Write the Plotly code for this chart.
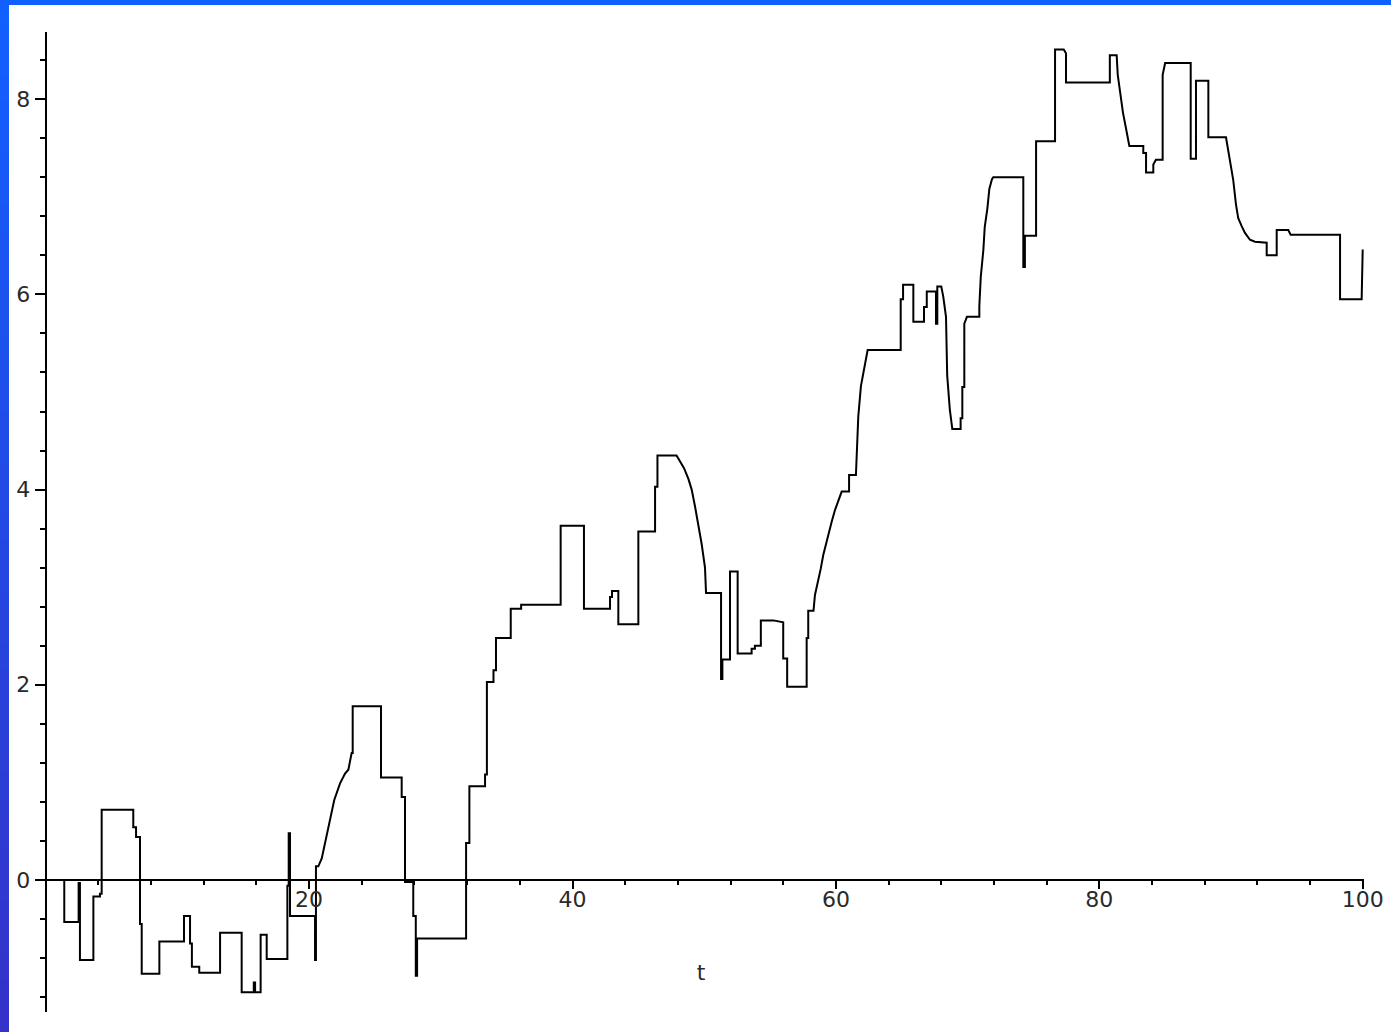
import plotly.graph_objects as go

# Sample path X(t) of the jump process, vertices of the polyline (t, X)
t_vals = [
    0, 1.41, 1.41, 2.5, 2.5, 2.6, 2.6, 3.62, 3.62, 4.12, 4.12, 4.25, 4.25,
    6.65, 6.65, 6.86, 6.86, 7.16, 7.16, 7.29, 7.29, 8.63, 8.63, 10.5, 10.5,
    10.96, 10.96, 11.1, 11.1, 11.66, 11.66, 13.24, 13.24, 14.88, 14.88,
    15.8, 15.8, 15.9, 15.9, 16.32, 16.32, 16.78, 16.78, 18.35, 18.35,
    18.45, 18.45, 18.55, 18.55, 20.45, 20.45, 20.52, 20.52, 20.7,
    20.96, 21.21, 21.46, 21.72, 21.91, 22.35, 22.73, 22.98, 23.1, 23.23,
    23.31, 23.31, 25.46, 25.46, 27.03, 27.03, 27.28, 27.28, 27.91, 27.91,
    28.1, 28.1, 28.2, 28.2, 31.92, 31.92, 32.17, 32.17, 33.36, 33.36,
    33.5, 33.5, 34.0, 34.0, 34.19, 34.19, 35.31, 35.31, 36.1, 36.1, 39.1,
    39.1, 40.87, 40.87, 42.85, 42.85, 43.0, 43.0, 43.48, 43.48, 45.0, 45.0,
    46.27, 46.27, 46.45, 46.45, 47.9, 48.16, 48.47, 48.8, 49.05, 49.3,
    49.55, 49.81, 50.06, 50.14, 51.28, 51.28, 51.38, 51.38, 51.96, 51.96,
    52.54, 52.54, 53.6, 53.6, 53.85, 53.85, 54.3, 54.3, 55.25, 56.0, 56.0,
    56.3, 56.3, 57.78, 57.78, 57.9, 57.9, 58.3, 58.41, 58.66, 58.85, 59.04,
    59.25, 59.42, 59.68, 59.93, 60.18, 60.44, 61.0, 61.0, 61.52, 61.58,
    61.7, 61.9, 62.08, 62.3, 62.41, 64.92, 64.92, 65.1, 65.1, 65.88, 65.88,
    66.69, 66.69, 66.9, 66.9, 67.6, 67.6, 67.7, 67.7, 68.0, 68.15, 68.36,
    68.45, 68.65, 68.84, 69.47, 69.47, 69.6, 69.6, 69.75, 69.75, 69.95,
    70.89, 70.89, 71.0, 71.2, 71.3, 71.5, 71.65, 71.85, 71.95, 74.23,
    74.23, 74.35, 74.35, 75.2, 75.2, 76.64, 76.64, 77.3, 77.47, 77.47,
    80.8, 80.8, 81.32, 81.4, 81.6, 81.8, 82.0, 82.28, 83.34, 83.34, 83.55,
    83.55, 84.1, 84.1, 84.3, 84.81, 84.81, 85.0, 86.94, 86.94, 87.34,
    87.34, 88.28, 88.28, 89.62, 89.8, 89.98, 90.17, 90.38, 90.55, 90.81,
    91.06, 91.44, 91.82, 92.71, 92.71, 93.47, 93.47, 94.35, 94.53, 98.28,
    98.28, 99.92, 99.95, 100.0,
]
x_vals = [
    0, 0, -0.43, -0.43, -0.03, -0.03, -0.82, -0.82, -0.17, -0.17, -0.14,
    -0.14, 0.72, 0.72, 0.54, 0.54, 0.44, 0.44, -0.45, -0.45, -0.96, -0.96,
    -0.63, -0.63, -0.37, -0.37, -0.65, -0.65, -0.89, -0.89, -0.95, -0.95,
    -0.54, -0.54, -1.15, -1.15, -1.05, -1.05, -1.15, -1.15, -0.56, -0.56,
    -0.81, -0.81, -0.06, -0.06, 0.48, 0.48, -0.37, -0.37, -0.82, -0.82,
    0.14, 0.14, 0.22, 0.38, 0.55, 0.72, 0.82, 0.99, 1.09, 1.13, 1.2, 1.3,
    1.3, 1.78, 1.78, 1.05, 1.05, 0.85, 0.85, -0.02, -0.02, -0.37, -0.37,
    -0.98, -0.98, -0.6, -0.6, 0.38, 0.38, 0.96, 0.96, 1.08, 1.08, 2.03,
    2.03, 2.15, 2.15, 2.48, 2.48, 2.78, 2.78, 2.82, 2.82, 3.63, 3.63, 2.78,
    2.78, 2.9, 2.9, 2.96, 2.96, 2.62, 2.62, 3.57, 3.57, 4.03, 4.03, 4.35,
    4.35, 4.29, 4.22, 4.11, 4.0, 3.83, 3.65, 3.44, 3.2, 2.94, 2.94, 2.06,
    2.06, 2.26, 2.26, 3.16, 3.16, 2.32, 2.32, 2.37, 2.37, 2.4, 2.4, 2.66,
    2.66, 2.64, 2.27, 2.27, 1.98, 1.98, 2.48, 2.48, 2.76, 2.76, 2.92, 3.06,
    3.19, 3.33, 3.45, 3.55, 3.67, 3.79, 3.89, 3.98, 3.98, 4.15, 4.15, 4.43,
    4.75, 5.06, 5.18, 5.33, 5.43, 5.43, 5.95, 5.95, 6.1, 6.1, 5.72, 5.72,
    5.87, 5.87, 6.03, 6.03, 5.7, 5.7, 6.08, 6.08, 5.98, 5.77, 5.17, 4.82,
    4.62, 4.62, 4.73, 4.73, 5.05, 5.05, 5.7, 5.77, 5.77, 5.88, 6.18, 6.46,
    6.69, 6.88, 7.08, 7.18, 7.2, 7.2, 6.28, 6.28, 6.6, 6.6, 7.57, 7.57,
    8.51, 8.51, 8.47, 8.17, 8.17, 8.45, 8.45, 8.25, 8.04, 7.86, 7.72, 7.52,
    7.52, 7.45, 7.45, 7.25, 7.25, 7.33, 7.38, 7.38, 8.25, 8.37, 8.37, 7.39,
    7.39, 8.19, 8.19, 7.61, 7.61, 7.45, 7.34, 7.17, 6.92, 6.78, 6.7, 6.63,
    6.56, 6.54, 6.53, 6.4, 6.4, 6.66, 6.66, 6.61, 6.61, 5.95, 5.95, 6.3,
    6.46,
]

x_ticks = [20, 40, 60, 80, 100]
y_ticks = [0, 2, 4, 6, 8]

W, H = 1391, 1032
# pixel geometry of the axes
ox, oy = 45.7, 880.0          # origin in pixels
sx, sy = 13.17, 97.6          # pixels per unit
x_rng = [-0.58, 100.1]
y_rng = [-1.35, 8.69]

def px_x(v):
    return ox + v * sx

def px_y(v):
    return oy - v * sy

fig = go.Figure()
fig.add_trace(go.Scatter(
    x=t_vals, y=x_vals, mode="lines",
    line=dict(color="black", width=2),
    hoverinfo="skip", showlegend=False,
))

tick_font = dict(family="DejaVu Sans", size=22, color="#2a2a2a")

fig.update_layout(
    width=W, height=H,
    margin=dict(l=0, r=0, t=0, b=0, autoexpand=False),
    paper_bgcolor="white", plot_bgcolor="white",
    showlegend=False,
    xaxis=dict(
        domain=[px_x(x_rng[0]) / W, px_x(x_rng[1]) / W],
        range=x_rng, anchor="free", position=(H - oy) / H,
        automargin=False,
        showline=True, linecolor="black", linewidth=2,
        showgrid=False, zeroline=False,
        tickmode="array", tickvals=x_ticks, ticktext=[str(v) for v in x_ticks],
        ticks="outside", ticklen=8, tickwidth=1.5, tickcolor="black",
        ticklabelstandoff=-8,
        minor=dict(dtick=4, tick0=0, ticks="outside", ticklen=4,
                   tickwidth=1.5, tickcolor="black", showgrid=False),
        tickfont=tick_font,
        title=dict(text="t", font=dict(family="DejaVu Sans", size=22, color="#2a2a2a"),
                   standoff=52),
    ),
    yaxis=dict(
        domain=[(H - px_y(y_rng[0])) / H, (H - px_y(y_rng[1])) / H],
        range=y_rng, anchor="free", position=ox / W,
        automargin=False,
        showline=True, linecolor="black", linewidth=2,
        showgrid=False, zeroline=False,
        tickmode="array", tickvals=y_ticks, ticktext=[str(v) for v in y_ticks],
        ticks="outside", ticklen=10, tickwidth=1.5, tickcolor="black",
        minor=dict(dtick=0.4, tick0=0, ticks="outside", ticklen=5,
                   tickwidth=1.5, tickcolor="black", showgrid=False),
        tickfont=tick_font,
    ),
)

# blue slide frame: solid strip on top, graded strip down the left side
shapes = [dict(type="rect", xref="paper", yref="paper",
               x0=0, x1=1, y0=1 - 5 / H, y1=1,
               fillcolor="rgb(16,96,255)", line=dict(width=0), layer="above")]
n_bands = 40
top_c, bot_c = (18, 96, 255), (52, 50, 200)
for i in range(n_bands):
    f = i / (n_bands - 1)
    c = tuple(round(a + (b - a) * f) for a, b in zip(top_c, bot_c))
    y1 = 1 - i / n_bands
    y0 = 1 - (i + 1) / n_bands
    shapes.append(dict(type="rect", xref="paper", yref="paper",
                       x0=0, x1=9 / W, y0=y0, y1=y1 + 0.001,
                       fillcolor="rgb(%d,%d,%d)" % c, line=dict(width=0),
                       layer="above"))
fig.update_layout(shapes=shapes)

fig.write_html("out.html", config={"displayModeBar": False})
